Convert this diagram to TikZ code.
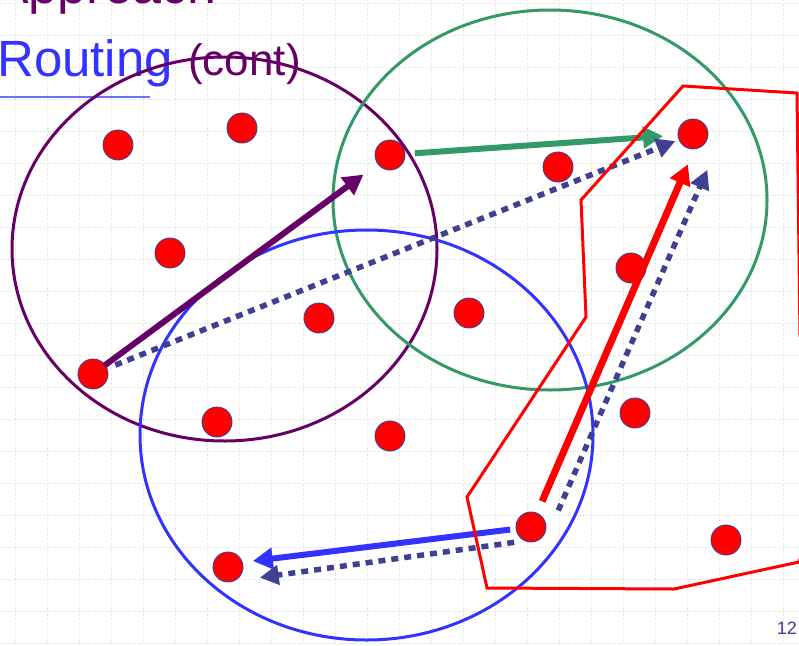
\documentclass[tikz,border=0pt]{standalone}
\usepackage{fontspec}
\setmainfont{Liberation Sans}
\usepackage{xcolor}
\usepackage{tikz}
\usetikzlibrary{arrows.meta}

\definecolor{slidepurple}{HTML}{660066}
\definecolor{slideblue}{HTML}{3333FF}
\definecolor{slidegreen}{HTML}{339966}
\definecolor{slidenavy}{HTML}{404090}
\definecolor{gridgray}{HTML}{DCDCDC}

\tikzset{
	gridline/.style={gridgray, line width=1pt, dash pattern=on 1pt off 1.5pt},
	dot/.style={circle, fill=red, draw=slidenavy, line width=0.9pt, minimum size=30pt, inner sep=0pt},
	ring/.style={line width=3pt},
	solidarrow/.style={line width=6pt, -{Triangle[length=20pt, width=21pt]}},
	dottedarrow/.style={slidenavy, line width=5.5pt, dash pattern=on 7pt off 6pt, -{Triangle[length=19pt, width=19pt]}},
}

\begin{document}
\begin{tikzpicture}[x=1pt, y=-1pt]
	\useasboundingbox (0, 0) rectangle (799, 645);
	% Background grid:
	\foreach \gx in {15, 47, ..., 799} \draw[gridline] (\gx, 0) -- (\gx, 645);
	\foreach \gy in {3, 35, ..., 645} \draw[gridline] (0, \gy) -- (799, \gy);
	% Title:
	\node[anchor=base west, inner sep=0pt, text=slidepurple, font=\fontsize{52}{60}\selectfont] (title) at (-6, 3){Approach};
	\node[anchor=base west, inner sep=0pt, text=slideblue, font=\fontsize{51}{58}\selectfont] (routing) at (-3, 76){Routing};
	\node[anchor=base west, inner sep=0pt, text=slidepurple, font=\fontsize{44}{50}\selectfont] (cont) at (188, 75){(cont)};
	\draw[slideblue!70, line width=1.5pt] (0, 97) -- (150, 97);
	\node[anchor=base east, inner sep=0pt, text=slidenavy, font=\fontsize{18}{20}\selectfont] (pagenum) at (797, 634){12};
	% Nodes:
	\node[dot] (d1) at (118, 145){};
	\node[dot] (d2) at (242, 128){};
	\node[dot] (d3) at (170, 253){};
	\node[dot] (d4) at (390, 155){};
	\node[dot] (d5) at (558, 167){};
	\node[dot] (d6) at (693, 134){};
	\node[dot] (d7) at (631, 268){};
	\node[dot] (d8) at (319, 318){};
	\node[dot] (d9) at (469, 313){};
	\node[dot] (d10) at (93, 374){};
	\node[dot] (d11) at (217, 422){};
	\node[dot] (d12) at (390, 436){};
	\node[dot] (d13) at (635, 413){};
	\node[dot] (d14) at (531, 527){};
	\node[dot] (d15) at (228, 567){};
	\node[dot] (d16) at (726, 540){};
	% Ranges:
	\draw[ring, slidepurple] (224.5, 249) ellipse [x radius=212.5, y radius=192];
	\draw[ring, slidegreen] (550, 200) ellipse [x radius=217, y radius=190];
	\draw[ring, slideblue] (366.5, 435) ellipse [x radius=226.5, y radius=205];
	% Routes:
	\draw[solidarrow, slidepurple, shorten <=14pt, shorten >=33pt] (d10.center) -- (d4.center);
	\draw[solidarrow, slidegreen, shorten <=25pt, shorten >=30pt] (d4.center) -- (d6.center);
	\draw[dottedarrow, shorten <=24pt, shorten >=19pt] (d10.center) -- (d6.center);
	\draw[solidarrow, red, line width=7pt, shorten <=28pt, shorten >=33pt] (d14.center) -- ([xshift=8pt]d6.center);
	\draw[dottedarrow, shorten <=18pt, shorten >=39pt] ([xshift=20pt]d14.center) -- ([xshift=30pt]d6.center);
	\draw[solidarrow, slideblue, shorten <=21pt, shorten >=25pt] (d14.center) -- ([yshift=3pt]d15.center);
	\draw[dottedarrow, shorten <=17pt, shorten >=32pt] ([yshift=-13pt]d14.center) -- ([yshift=-15pt]d15.center);
	% Cluster outline:
	\draw[red, line width=3pt] (683, 86) -- (797, 93) -- (800, 336) -- (840, 450) -- (799, 562) -- (674, 589) -- (487, 588) -- (467, 497) -- (586, 317) -- (581, 200) -- cycle;
\end{tikzpicture}
\end{document}
